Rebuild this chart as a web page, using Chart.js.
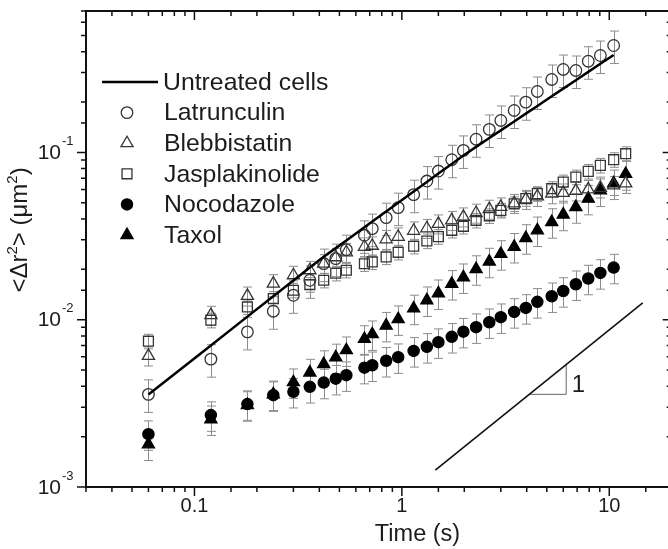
<!DOCTYPE html>
<html>
<head>
<meta charset="utf-8">
<script src="https://cdn.jsdelivr.net/npm/chart.js@4.4.1/dist/chart.umd.min.js"></script>
<style>
  html, body { margin: 0; padding: 0; overflow: hidden; background: #fff; }
  canvas { display: block; }
</style>
</head>
<body>
<canvas id="msdChart" width="680" height="549"></canvas>
<script>
// ---- data ----
const timeSec = [0.06, 0.12, 0.18, 0.24, 0.30, 0.36, 0.42, 0.48, 0.54, 0.66, 0.72, 0.84, 0.96, 1.14, 1.32,
  1.5, 1.74, 1.98, 2.28, 2.64, 3.0, 3.48, 3.96, 4.5, 5.28, 6.0, 6.9, 7.92, 9.06, 10.5, 12.0];

const untreated = [0.00357, 0.00702, 0.01043, 0.0138, 0.01716, 0.0205, 0.02375, 0.02678, 0.02978, 0.0357,
  0.0386, 0.0443, 0.0500, 0.0583, 0.0666, 0.0747, 0.0853, 0.0959, 0.1079, 0.1219, 0.1354, 0.1531, 0.1705,
  0.1895, 0.2163, 0.2405, 0.2700, 0.3027, 0.3383, 0.3822, null];

const latrunculin = [0.00358, 0.00581, 0.00846, 0.01124, 0.0140, 0.01721, 0.02165, 0.02319, 0.02624, 0.03195,
  0.03504, 0.04075, 0.04677, 0.0559, 0.06741, 0.07735, 0.0904, 0.1028, 0.1199, 0.1372, 0.1552, 0.1781, 0.1996,
  0.2313, 0.2728, 0.3131, 0.3088, 0.3508, 0.3794, 0.4354, null];

const blebbistatin = [0.00608, 0.01064, 0.01387, 0.01644, 0.01844, 0.01975, 0.02165, 0.02361, 0.02529, 0.02728,
  0.02766, 0.03024, 0.0313, 0.03399, 0.03518, 0.03741, 0.03926, 0.0412, 0.04341, 0.0458, 0.04727, 0.04961,
  0.05241, 0.05461, 0.05666, 0.05729, 0.05892, 0.06014, 0.0614, 0.06353, 0.0653];

const jasplakinolide = [0.00744, 0.00993, 0.01192, 0.01338, 0.015, 0.01622, 0.01721, 0.01895, 0.01975, 0.02159,
  0.02214, 0.02371, 0.02529, 0.02747, 0.02954, 0.03138, 0.03422, 0.03616, 0.03926, 0.04177, 0.04505, 0.04927,
  0.0529, 0.05666, 0.06071, 0.06648, 0.07121, 0.07702, 0.08365, 0.09045, 0.0982];

const nocodazole = [0.00207, 0.00269, 0.00313, 0.00354, 0.00371, 0.00397, 0.00421, 0.00444, 0.00466, 0.00517,
  0.00534, 0.00568, 0.00597, 0.00651, 0.00688, 0.00734, 0.0079, 0.00848, 0.00902, 0.00966, 0.01035, 0.01113,
  0.01176, 0.01278, 0.01381, 0.01485, 0.01629, 0.01762, 0.01903, 0.02049, null];

const taxol = [0.0018, 0.00254, 0.00309, 0.00358, 0.00423, 0.00483, 0.00543, 0.00595, 0.00657, 0.00767,
  0.00819, 0.00921, 0.01007, 0.01167, 0.01307, 0.01439, 0.01638, 0.01794, 0.02008, 0.02226, 0.02471, 0.02728,
  0.03079, 0.03422, 0.03836, 0.04253, 0.04714, 0.0529, 0.05932, 0.0653, 0.0743];

// relative error bar size per treated series (estimated)
const errorFraction = [0.22, 0.13, 0.1, 0.2, 0.2];

const seriesLabels = ['Untreated cells', 'Latrunculin', 'Blebbistatin', 'Jasplakinolide', 'Nocodazole', 'Taxol'];

// slope-1 guide and its little triangle
const slopeGuideX = [1.45, 14.5];
const slopeGuideY = [0.00126, 0.0126];
const slopeTriX = [4.12, 6.2, 6.2];
const slopeTriY = [0.00358, 0.00358, 0.00539];
const slopeLabel = '1';
const slopeLabelAt = [6.6, 0.00405];

// axes
const xRange = [0.03, 20];
const yRange = [0.001, 0.7];
const xTickValues = [0.1, 1, 10];
const xTickLabels = ['0.1', '1', '10'];
const yTickValues = [0.001, 0.01, 0.1];
const yTickExponents = ['-3', '-2', '-1'];
const xTitle = 'Time (s)';

const FONT = '"Liberation Sans", Arial, sans-serif';
const TEXT = '#1c1c1c';

function pts(xs, ys) {
  return xs.map((x, i) => ({ x, y: ys[i] })).filter(p => p.y != null);
}

const markerStyles = [
  { style: 'circle', radius: 5.8, fill: 'rgba(0,0,0,0)', stroke: '#333' },
  { style: 'triangle', radius: 7, fill: 'rgba(0,0,0,0)', stroke: '#333' },
  { style: 'rect', radius: 7, fill: 'rgba(0,0,0,0)', stroke: '#333' },
  { style: 'circle', radius: 5.6, fill: '#000', stroke: '#000' },
  { style: 'triangle', radius: 7, fill: '#000', stroke: '#000' },
];
const markerSeries = [latrunculin, blebbistatin, jasplakinolide, nocodazole, taxol];

function isDecade(v) {
  const l = Math.log10(v);
  return Math.abs(l - Math.round(l)) < 1e-6;
}

// ---- plugins ----

const errorBars = {
  id: 'errorBars',
  beforeDatasetsDraw(chart) {
    const { ctx, scales: { x, y } } = chart;
    ctx.save();
    ctx.strokeStyle = '#8c8c8c';
    ctx.lineWidth = 1;
    markerSeries.forEach((ys, s) => {
      const f = errorFraction[s];
      timeSec.forEach((t, i) => {
        const v = ys[i];
        if (v == null) return;
        const px = Math.round(x.getPixelForValue(t)) + 0.5;
        const hi = y.getPixelForValue(v * (1 + f));
        const lo = y.getPixelForValue(v * (1 - f));
        ctx.beginPath();
        ctx.moveTo(px, hi); ctx.lineTo(px, lo);
        ctx.moveTo(px - 4.5, hi); ctx.lineTo(px + 4.5, hi);
        ctx.moveTo(px - 4.5, lo); ctx.lineTo(px + 4.5, lo);
        ctx.stroke();
      });
    });
    ctx.restore();
  }
};

const frame = {
  id: 'frame',
  afterDraw(chart) {
    const { ctx, chartArea: a, scales: { x, y } } = chart;
    ctx.save();

    // minor/major ticks
    ctx.strokeStyle = '#111';
    ctx.lineWidth = 1.5;
    ctx.beginPath();
    x.ticks.forEach(t => {
      const px = x.getPixelForValue(t.value);
      if (px < a.left - 0.5 || px > a.right + 0.5) return;
      const len = isDecade(t.value) ? 9 : 5;
      ctx.moveTo(px, a.bottom); ctx.lineTo(px, a.bottom + len);
      ctx.moveTo(px, a.top); ctx.lineTo(px, a.top + len);
    });
    y.ticks.forEach(t => {
      const py = y.getPixelForValue(t.value);
      if (py < a.top - 0.5 || py > a.bottom + 0.5) return;
      const len = isDecade(t.value) ? 9 : 5;
      ctx.moveTo(a.left - len, py); ctx.lineTo(a.left, py);
      ctx.moveTo(a.right - len, py); ctx.lineTo(a.right, py);
    });
    ctx.stroke();

    // box
    ctx.lineWidth = 2;
    ctx.strokeRect(a.left, a.top, a.right - a.left, a.bottom - a.top);

    // tick labels
    ctx.fillStyle = TEXT;
    ctx.font = `20px ${FONT}`;
    ctx.textAlign = 'center';
    ctx.textBaseline = 'middle';
    xTickValues.forEach((v, i) => {
      ctx.fillText(xTickLabels[i], x.getPixelForValue(v), a.bottom + 19);
    });
    yTickValues.forEach((v, i) => {
      const py = y.getPixelForValue(v);
      ctx.font = `21px ${FONT}`;
      ctx.textAlign = 'right';
      ctx.fillText('10', a.left - 25, py + 1);
      ctx.font = `13px ${FONT}`;
      ctx.textAlign = 'left';
      ctx.fillText(yTickExponents[i], a.left - 24, py - 11);
    });

    // axis titles
    ctx.font = `23.5px ${FONT}`;
    ctx.textAlign = 'center';
    ctx.fillText(xTitle, a.left + (a.right - a.left) * 0.566, a.bottom + 48);

    const parts = [['<\u0394r', 24, 0], ['2', 15, -10], ['> (\u03bcm', 24, 0], ['2', 15, -10], [')', 24, 0]];
    ctx.textAlign = 'left';
    ctx.textBaseline = 'alphabetic';
    let total = 0;
    parts.forEach(p => { ctx.font = `${p[1]}px ${FONT}`; total += ctx.measureText(p[0]).width; });
    ctx.save();
    ctx.translate(27, a.top + (a.bottom - a.top) * 0.46);
    ctx.rotate(-Math.PI / 2);
    let cx = -total / 2;
    parts.forEach(p => {
      ctx.font = `${p[1]}px ${FONT}`;
      ctx.fillText(p[0], cx, p[2]);
      cx += ctx.measureText(p[0]).width;
    });
    ctx.restore();

    // slope label
    ctx.font = `24px ${FONT}`;
    ctx.textBaseline = 'middle';
    ctx.fillText(slopeLabel, x.getPixelForValue(slopeLabelAt[0]), y.getPixelForValue(slopeLabelAt[1]));

    // legend
    const rowY = 82, rowGap = 30.6, markX = 127, textX = 164;
    ctx.font = `24.8px ${FONT}`;
    ctx.textBaseline = 'middle';
    seriesLabels.forEach((label, i) => {
      const yy = rowY + i * rowGap;
      if (i === 0) {
        ctx.strokeStyle = '#000';
        ctx.lineWidth = 2.5;
        ctx.beginPath();
        ctx.moveTo(102, yy); ctx.lineTo(158, yy);
        ctx.stroke();
      } else {
        const m = markerStyles[i - 1];
        ctx.fillStyle = m.fill;
        ctx.strokeStyle = m.stroke;
        ctx.lineWidth = 1.3;
        Chart.helpers.drawPoint(ctx, { pointStyle: m.style, radius: m.radius, borderWidth: 1.3, rotation: 0 }, markX, yy);
      }
      ctx.fillStyle = TEXT;
      ctx.fillText(label, textX - (i === 0 ? 1 : 0), yy + 1);
    });

    ctx.restore();
  }
};

// ---- chart ----

const datasets = [
  {
    label: seriesLabels[0], data: pts(timeSec, untreated), showLine: true,
    borderColor: '#000', borderWidth: 2.5, pointRadius: 0, tension: 0
  },
  {
    label: 'slope', data: pts(slopeGuideX, slopeGuideY), showLine: true,
    borderColor: '#111', borderWidth: 1.6, pointRadius: 0
  },
  {
    label: 'slope triangle', data: pts(slopeTriX, slopeTriY), showLine: true,
    borderColor: '#666', borderWidth: 1, pointRadius: 0
  },
];
markerSeries.forEach((ys, i) => {
  const m = markerStyles[i];
  datasets.push({
    label: seriesLabels[i + 1],
    data: pts(timeSec, ys),
    showLine: false,
    pointStyle: m.style,
    pointRadius: m.radius,
    pointBackgroundColor: m.fill,
    pointBorderColor: m.stroke,
    pointBorderWidth: 1.3,
  });
});

const hiddenAxis = {
  type: 'logarithmic',
  grid: { display: false, drawTicks: false },
  border: { display: false },
  ticks: { display: false },
};

new Chart(document.getElementById('msdChart'), {
  type: 'scatter',
  data: { datasets },
  options: {
    responsive: false,
    animation: false,
    layout: { padding: { left: 86, top: 11, right: 3, bottom: 62 } },
    plugins: { legend: { display: false }, tooltip: { enabled: false } },
    scales: {
      x: { ...hiddenAxis, min: xRange[0], max: xRange[1] },
      y: { ...hiddenAxis, min: yRange[0], max: yRange[1] },
    },
  },
  plugins: [errorBars, frame],
});
</script>
</body>
</html>
